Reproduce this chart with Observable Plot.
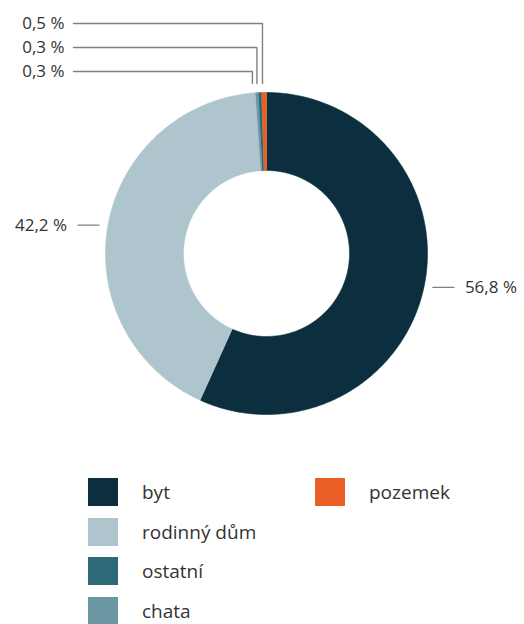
<!DOCTYPE html>
<html>
<head>
<meta charset="utf-8">
<script src="https://cdn.jsdelivr.net/npm/d3@7"></script>
<script src="https://cdn.jsdelivr.net/npm/@observablehq/plot@0.6"></script>
<style>
  html, body { margin: 0; padding: 0; background: #fff; }
  #wrap { position: relative; width: 524px; height: 624px; overflow: hidden; font-family: "Open Sans", sans-serif; }
  #chart { position: absolute; left: 0; top: 0; }
  .legend { position: absolute; left: 88px; top: 478px; display: grid; grid-auto-flow: column;
            grid-template-rows: repeat(4, 39.6px); grid-template-columns: 227px auto; }
  .item { display: flex; align-items: flex-start; font-size: 19px; color: #333; }
  .sw { width: 30px; height: 28px; margin-right: 24px; flex: none; }
  .item span { line-height: 28px; }
</style>
</head>
<body>
<div id="wrap">
  <div id="chart"></div>
  <div class="legend" id="legend"></div>
</div>
<script>
// ---- data ----
const categories = ["byt", "rodinný dům", "chata", "ostatní", "pozemek"];
const shares = [56.8, 42.2, 0.3, 0.3, 0.5];
const colors = ["#0b2f3e", "#aec5ce", "#6b97a2", "#2d6a78", "#e95f26"];
const legendOrder = ["byt", "rodinný dům", "ostatní", "chata", "pozemek"];

// ---- geometry settings ----
const W = 524, H = 460;
const R = 161, r0 = 83;          // outer / inner radius
const cx = 266, cy = 253;        // centre in pixels

const data = categories.map((c, i) => ({key: c, value: shares[i]}));
const arcs = d3.pie().sort(null).value(d => d.value)(data);
const fmt = v => v.toFixed(1).replace(".", ",") + " %";

// slice polygons
const pts = [];
const step = Math.PI / 360;
for (const a of arcs) {
  const n = Math.max(2, Math.ceil((a.endAngle - a.startAngle) / step));
  for (let i = 0; i <= n; i++) {
    const t = a.startAngle + (a.endAngle - a.startAngle) * i / n;
    pts.push({key: a.data.key, x: R * Math.sin(t), y: R * Math.cos(t)});
  }
  for (let i = n; i >= 0; i--) {
    const t = a.startAngle + (a.endAngle - a.startAngle) * i / n;
    pts.push({key: a.data.key, x: r0 * Math.sin(t), y: r0 * Math.cos(t)});
  }
}

// labels
const leaders = [];
const labels = [];
const big = arcs.filter(a => a.data.value >= 1);
const small = arcs.filter(a => a.data.value < 1)
  .sort((a, b) => (b.startAngle + b.endAngle) - (a.startAngle + a.endAngle));
for (const a of big) {
  const m = (a.startAngle + a.endAngle) / 2;
  const y = R * Math.cos(m);
  const s = Math.sign(Math.sin(m));
  const edge = s * Math.sqrt(R * R - y * y);
  leaders.push({id: a.data.key, x: edge + s * 9, y});
  leaders.push({id: a.data.key, x: edge + s * 30, y});
  labels.push({x: edge + s * 41, y, text: fmt(a.data.value), anchor: s > 0 ? "start" : "end"});
}
small.forEach((a, i) => {
  const m = (a.startAngle + a.endAngle) / 2;
  const xm = R * Math.sin(m) - 1.5 * (i + 1);
  const rowY = R + 69 - i * 24;
  const xEnd = -cx + 73;
  leaders.push({id: a.data.key, x: xm, y: R + 9});
  leaders.push({id: a.data.key, x: xm, y: rowY});
  leaders.push({id: a.data.key, x: xEnd, y: rowY});
  labels.push({x: xEnd - 9, y: rowY, text: fmt(a.data.value), anchor: "end"});
});

const chart = Plot.plot({
  width: W, height: H,
  margin: 0,
  x: {domain: [-cx, W - cx], axis: null},
  y: {domain: [cy - H, cy], axis: null},
  color: {domain: categories, range: colors},
  style: {fontFamily: "Open Sans, sans-serif", fontSize: "17px", background: "transparent"},
  marks: [
    Plot.line(pts, {x: "x", y: "y", z: "key", fill: "key", stroke: "key", strokeWidth: 0.6, curve: "linear"}),
    Plot.line(leaders, {x: "x", y: "y", z: "id", stroke: "#808080", strokeWidth: 1.4, curve: "linear"}),
    Plot.text(labels.filter(d => d.anchor === "start"), {x: "x", y: "y", text: "text", textAnchor: "start", fill: "#333", fontSize: 17}),
    Plot.text(labels.filter(d => d.anchor === "end"), {x: "x", y: "y", text: "text", textAnchor: "end", fill: "#333", fontSize: 17})
  ]
});
document.getElementById("chart").appendChild(chart);

// legend
const legend = document.getElementById("legend");
for (const k of legendOrder) {
  const it = document.createElement("div");
  it.className = "item";
  const sw = document.createElement("div");
  sw.className = "sw";
  sw.style.background = colors[categories.indexOf(k)];
  const t = document.createElement("span");
  t.textContent = k;
  it.appendChild(sw); it.appendChild(t);
  legend.appendChild(it);
}
</script>
</body>
</html>
